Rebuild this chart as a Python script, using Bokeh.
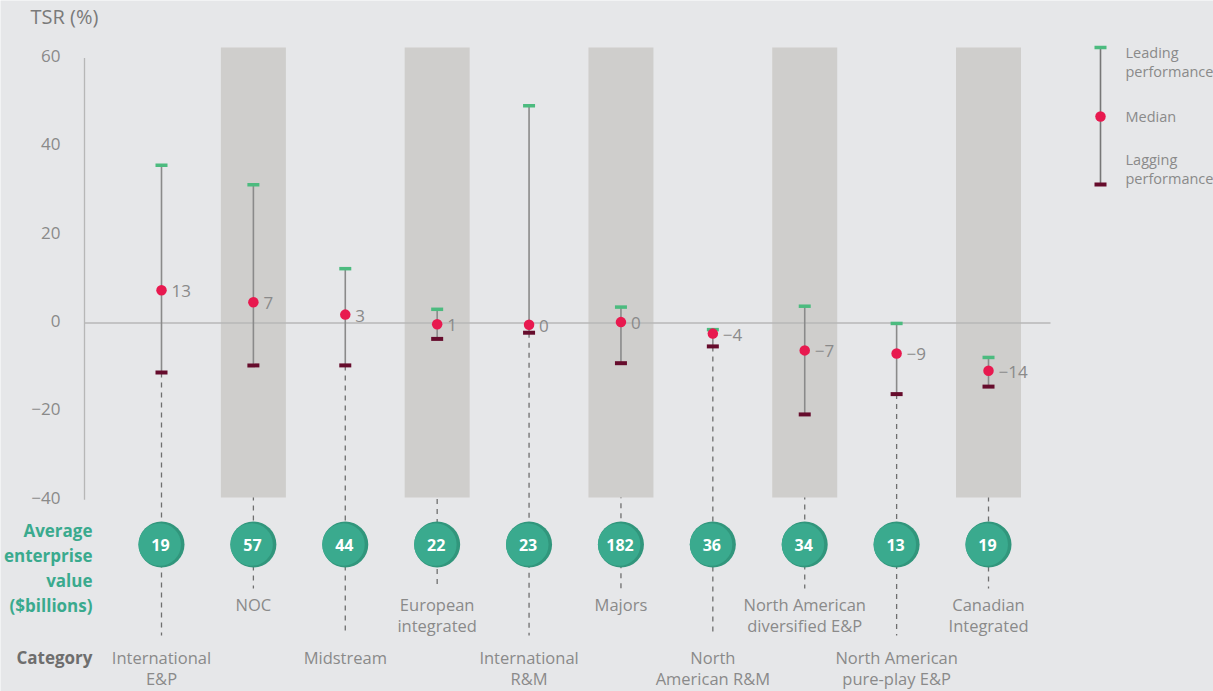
from bokeh.plotting import figure
from bokeh.models import Range1d, ColumnDataSource
from bokeh.core.properties import value
from bokeh.embed import file_html
from bokeh.resources import INLINE

# ---------------- data ----------------
categories = ["International\nE&P", "NOC", "Midstream", "European\nintegrated",
              "International\nR&M", "Majors", "North\nAmerican R&M",
              "North American\ndiversified E&P", "North American\npure-play E&P",
              "Canadian\nIntegrated"]
leading = [35.7, 31.3, 12.3, 3.1, 49.2, 3.6, -1.5, 3.8, -0.1, -7.8]
median = [7.4, 4.7, 1.9, -0.3, -0.4, 0.2, -2.4, -6.2, -6.9, -10.8]
lagging = [-11.2, -9.6, -9.6, -3.6, -2.2, -9.1, -5.3, -20.7, -16.1, -14.4]
median_labels = ["13", "7", "3", "1", "0", "0", "\u22124", "\u22127", "\u22129", "\u221214"]
enterprise_value = ["19", "57", "44", "22", "23", "182", "36", "34", "13", "19"]
y_ticks = [60, 40, 20, 0, -20, -40]
y_tick_labels = ["60", "40", "20", "0", "\u221220", "\u221240"]

# ---------------- layout ----------------
W, H = 1213, 691
X0_PX, DX_PX = 161.0, 91.89     # pixel of first category, pixels per category
Y0_PX, DY_PX = 322.5, 4.417     # pixel of zero, pixels per percentage point


def xd(px):
    return (px - X0_PX) / DX_PX


def yd(py):
    return (Y0_PX - py) / DY_PX


BG = "#e6e7e9"
BAND = "#cfcecc"
GREY_TXT = "#8a8a8a"
TEAL = "#3aaa8e"
TEAL_DARK = "#31967c"
GREEN = "#4cbb7f"
RED = "#e8194f"
MAROON = "#660c2c"
WHISKER = "#8a8a8a"
FONT = value("Open Sans")

p = figure(width=W, height=H, x_range=Range1d(xd(0), xd(W)), y_range=Range1d(yd(H), yd(0)),
           x_axis_type=None, y_axis_type=None, toolbar_location=None,
           output_backend="svg", min_border=0)
p.outline_line_color = None
p.background_fill_color = BG
p.border_fill_color = BG


def multiline(xs_, first_py, labels, spacing_px, **kw):
    """Place each line of each label as its own text item, centre of line 1 at first_py."""
    tx, ty, tt = [], [], []
    for x, py, lab in zip(xs_, first_py, labels):
        for j, line in enumerate(lab.split("\n")):
            tx.append(x)
            ty.append(yd(py + j * spacing_px))
            tt.append(line)
    p.text(x=tx, y=ty, text=tt, text_baseline="middle", text_font=FONT, **kw)


n = len(categories)
xs = list(range(n))
dash_end = [yd(635) if i % 2 == 0 else yd(588) for i in xs]
src = ColumnDataSource(dict(x=xs, lead=leading, med=median, lag=lagging,
                            mlab=median_labels, ev=enterprise_value, dend=dash_end,
                            ev_y=[yd(544)] * n))

# dashed guide lines (behind bands)
p.segment(x0="x", y0="lag", x1="x", y1="dend", source=src, line_color="#6f6f6f",
          line_width=1.3, line_dash="5 5")

# shaded bands for every other category
bx = [i for i in xs if i % 2 == 1]
half = 32.5 / DX_PX
p.quad(left=[x - half for x in bx], right=[x + half for x in bx],
       bottom=yd(497), top=yd(47), fill_color=BAND, line_color=None)

# zero line and y axis line
p.segment(x0=[xd(84)], y0=[0], x1=[xd(1050)], y1=[0], line_color="#b7b7b7", line_width=1.5)
p.segment(x0=[xd(84)], y0=[max(y_ticks)], x1=[xd(84)], y1=[min(y_ticks)],
          line_color="#b7b7b7", line_width=1.3)

# y tick labels
p.text(x=[xd(60)] * len(y_ticks), y=y_ticks, text=y_tick_labels, text_align="right",
       text_baseline="middle", text_font=FONT, text_font_size="17px", text_color=GREY_TXT,
       y_offset=-2)
p.text(x=[xd(30)], y=[yd(16)], text=["TSR (%)"], text_align="left", text_baseline="middle",
       text_font=FONT, text_font_size="20px", text_color="#7a7a7a")

# whiskers, caps, medians
p.segment(x0="x", y0="lag", x1="x", y1="lead", source=src, line_color=WHISKER, line_width=1.6)
p.rect(x="x", y="lead", width=12, height=3.5, width_units="screen", height_units="screen",
       source=src, fill_color=GREEN, line_color=None)
p.rect(x="x", y="lag", width=12, height=4, width_units="screen", height_units="screen",
       source=src, fill_color=MAROON, line_color=None)
p.scatter(x="x", y="med", source=src, size=10.5, fill_color=RED, line_color=None)
p.text(x="x", y="med", text="mlab", source=src, x_offset=10, y_offset=1, text_align="left",
       text_baseline="middle", text_font=FONT, text_font_size="17px", text_color=GREY_TXT)

# enterprise value circles
p.scatter(x="x", y="ev_y", source=src, size=46, fill_color=TEAL_DARK, line_color=None)
p.scatter(x=[x - 1.8 / DX_PX for x in xs], y=[yd(544)] * n, size=42.5, fill_color=TEAL,
          line_color=None)
p.text(x="x", y="ev_y", text="ev", source=src, text_align="center", text_baseline="middle",
       text_font=FONT, text_font_style="bold", text_font_size="16px", text_color="white",
       x_offset=-1, y_offset=0)

# category labels (alternating rows)
cat_py = [657 if i % 2 == 0 else 604 for i in xs]
multiline(xs, cat_py, categories, 21, text_align="center", text_font_size="16.5px",
          text_color=GREY_TXT)

# row headers
multiline([xd(92)], [530], ["Average\nenterprise\nvalue\n($billions)"], 25,
          text_align="right", text_font_style="bold", text_font_size="17px", text_color=TEAL)
multiline([xd(92)], [657], ["Category"], 25, text_align="right", text_font_style="bold",
          text_font_size="17px", text_color="#6e6e6e")

# legend
lx = xd(1100)
p.segment(x0=[lx], y0=[yd(47)], x1=[lx], y1=[yd(184)], line_color="#777777", line_width=1.6)
p.rect(x=[lx], y=[yd(47)], width=12, height=3.5, width_units="screen", height_units="screen",
       fill_color=GREEN, line_color=None)
p.rect(x=[lx], y=[yd(184)], width=12, height=4, width_units="screen", height_units="screen",
       fill_color=MAROON, line_color=None)
p.scatter(x=[lx], y=[yd(116)], size=10.5, fill_color=RED, line_color=None)
multiline([xd(1125)] * 3, [52, 116, 159],
          ["Leading\nperformance", "Median", "Lagging\nperformance"], 19,
          text_align="left", text_font_size="14.5px", text_color=GREY_TXT)

open("out.html", "w").write(file_html(p, INLINE))
